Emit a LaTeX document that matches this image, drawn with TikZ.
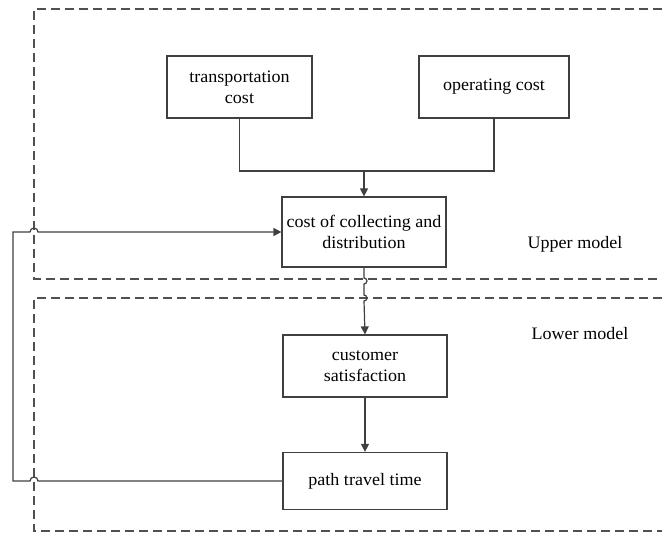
\documentclass[tikz,border=0pt]{standalone}
\usepackage{fontspec}
\setmainfont[FakeStretch=1.03]{Liberation Serif}
\usetikzlibrary{arrows.meta}
\definecolor{ln}{HTML}{404040}
\definecolor{dl}{HTML}{505050}
\tikzset{
  box/.style={draw=ln, line width=1.2pt, align=center, inner sep=0pt, font=\fontsize{17.5}{21}\selectfont},
  conn/.style={draw=ln, line width=1.2pt},
  arr/.style={conn, -{Triangle[length=8pt,width=8pt]}},
  region/.style={draw=dl, line width=1.2pt, dash pattern=on 9pt off 5pt},
  lbl/.style={font=\fontsize{17.5}{21}\selectfont, inner sep=0pt}
}
\begin{document}
\begin{tikzpicture}[x=1pt,y=-1pt]
\useasboundingbox (0,0) rectangle (662,537);
% regions
\draw[region] (662,9) -- (34,9) -- (34,279) -- (662,279);
\draw[region] (662,298) -- (34,298) -- (34,531) -- (662,531);
% boxes
\node[box, minimum width=145pt, minimum height=62pt] (trans) at (239.5,87) {transportation\\cost};
\node[box, minimum width=150pt, minimum height=62pt] (oper) at (494,87) {operating cost};
\node[box, minimum width=164pt, minimum height=70pt] (cost) at (364,232) {cost of collecting and\\distribution};
\node[box, minimum width=164pt, minimum height=62pt] (cust) at (365,366) {customer\\satisfaction};
\node[box, minimum width=164pt, minimum height=57pt] (path) at (365,481) {path travel time};
\node[lbl] (upper) at (575,244) {Upper model};
\node[lbl] (lower) at (580,334) {Lower model};
% connectors
\coordinate (j) at (364,171);
\draw[conn] (trans.south) |- (j) -| (oper.south);
\draw[arr] (j) -- (cost.north);
\draw[arr] (cost.south) -- (364,278) arc[start angle=90, end angle=-90, radius=3pt] -- (364,295) arc[start angle=90, end angle=-90, radius=3pt] -- (cust.north);
\draw[arr] (cust.south) -- (path.north);
\draw[arr] (path.west) -- (38,481) arc[start angle=0, end angle=180, radius=4pt] -- (13,481) -- (13,232) -- (30,232) arc[start angle=180, end angle=0, radius=4pt] -- (cost.west);
\end{tikzpicture}
\end{document}
